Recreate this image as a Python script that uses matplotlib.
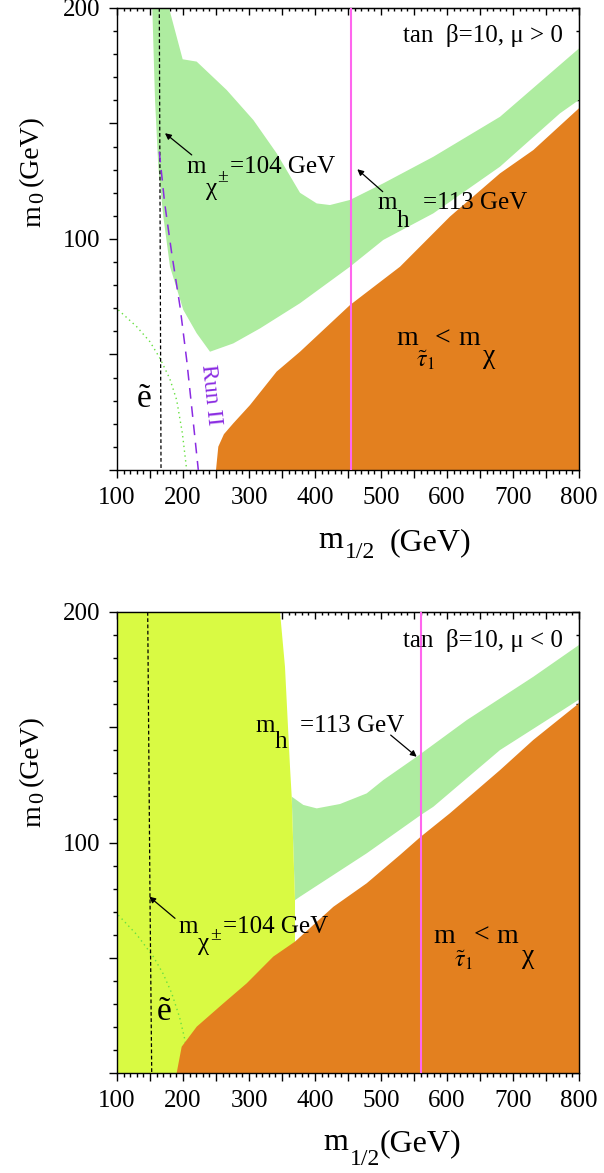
import matplotlib
matplotlib.use("Agg")
import matplotlib.pyplot as plt
import numpy as np

plt.rcParams['font.family'] = ['Liberation Serif', 'DejaVu Serif']
plt.rcParams['mathtext.fontset'] = 'stix'

# ---------------- data (m_1/2, m_0 in GeV) ----------------
# top panel: tan beta = 10, mu > 0
top_green_x = [153.5, 178.8, 199.5, 220.7, 266.2, 306.6, 341.9, 377.3, 402.6, 422.7, 453.0, 503.5,
               579.3, 680.3, 800.0, 800.0, 771.2, 680.3, 579.3, 503.5, 453.0, 377.3, 316.7, 276.2,
               240.9, 220.7, 200.5, 180.3, 170.2, 162.6, 157.6]
top_green_y = [200.0, 200.0, 177.8, 176.8, 164.5, 151.5, 137.1, 120.0, 115.4, 114.7, 116.9, 124.1,
               135.6, 152.9, 182.5, 160.2, 154.4, 131.3, 111.1, 99.6, 88.0, 72.2, 61.3, 54.8,
               51.2, 59.2, 69.3, 88.0, 109.7, 131.3, 160.2]
top_stau_x = [250.0, 253.5, 262.0, 276.2, 301.5, 341.9, 377.3, 453.0, 528.8, 604.5, 680.3, 730.8, 800.0, 800.0]
top_stau_y = [0.0, 10.1, 15.5, 20.2, 28.1, 42.6, 51.2, 71.4, 88.0, 109.7, 128.4, 138.5, 156.6, 0.0]
top_chargino_x = [164.1, 166.7]
top_chargino_y = [200.0, 0.0]
top_run2_x = [164.1, 172.0, 182.9, 195.5, 205.6, 214.0, 223.2]
top_run2_y = [137.8, 116.0, 93.8, 70.7, 47.6, 25.0, 0.0]
top_selectron_x = [102.0, 130.0, 150.0, 165.2, 180.0, 190.4, 199.0, 205.6]
top_selectron_y = [69.3, 62.0, 55.5, 48.3, 39.5, 30.3, 16.0, 0.0]
top_higgs_x = 454.0

# bottom panel: tan beta = 10, mu < 0
bot_yellow_x = [100.0, 347.0, 354.5, 362.1, 364.7, 369.7, 369.7, 100.0]
bot_yellow_y = [200.0, 200.0, 176.3, 132.9, 119.9, 75.0, 0.0, 0.0]
bot_green_x = [364.7, 382.3, 402.6, 437.9, 478.3, 503.5, 554.1, 629.9, 730.8, 800.0,
               800.0, 771.2, 680.3, 579.3, 560.2, 478.3, 377.3, 369.7]
bot_green_y = [119.9, 116.3, 114.8, 116.7, 121.3, 127.1, 137.2, 153.1, 171.9, 185.7,
               162.0, 156.7, 140.1, 115.5, 111.9, 95.3, 76.5, 75.0]
bot_stau_x = [190.4, 198.0, 220.8, 261.1, 296.5, 336.8, 369.7, 427.8, 478.3, 528.8, 560.2,
              604.5, 680.3, 730.8, 800.0, 800.0]
bot_stau_y = [0.0, 11.4, 20.1, 30.2, 38.9, 50.5, 57.0, 72.1, 82.3, 94.6, 102.5,
              112.7, 131.4, 144.5, 160.4, 0.0]
bot_chargino_x = [146.5, 150.0, 152.6]
bot_chargino_y = [200.0, 76.0, 0.0]
bot_selectron_x = [102.0, 130.0, 155.0, 170.0, 182.9, 195.0, 203.0, 208.0]
bot_selectron_y = [68.5, 60.0, 50.5, 43.0, 34.6, 24.0, 14.3, 5.0]
bot_higgs_x = 560.2

xticks = [100, 150, 200, 250, 300, 350, 400, 450, 500, 550, 600, 650, 700, 750, 800]
xticklabels = ['100', '', '200', '', '300', '', '400', '', '500', '', '600', '', '700', '', '800']
yticks = [0, 50, 100, 150, 200]
yticklabels = ['', '', '100', '', '200']
xminor = list(range(100, 801, 10))
yminor = list(range(0, 201, 10))

GREEN = '#aeeca0'
ORANGE = '#e3801f'
YELLOW = '#d9fa43'
PINK = '#ff66ee'
PURPLE = '#8a2be2'
DOTGREEN = '#66e040'

W, H = 604, 1173
fig = plt.figure(figsize=(W / 100, H / 100), dpi=100)


def ax_rect(left, top, right, bottom):
    return [left / W, 1 - bottom / H, (right - left) / W, (bottom - top) / H]


ax1 = fig.add_axes(ax_rect(117, 8, 579, 470))
ax2 = fig.add_axes(ax_rect(117, 612, 579, 1073))


def style(ax):
    ax.set_xlim(100, 800)
    ax.set_ylim(0, 200)
    ax.set_xticks(xticks)
    ax.set_xticklabels(xticklabels)
    ax.set_yticks(yticks)
    ax.set_yticklabels(yticklabels)
    ax.set_xticks(xminor, minor=True)
    ax.set_yticks(yminor, minor=True)
    ax.tick_params(which='both', direction='out', width=1.0)
    ax.tick_params(which='major', length=5.8, labelsize=18, pad=6.5)
    ax.tick_params(which='minor', length=2.6)
    for sp in ax.spines.values():
        sp.set_linewidth(1.0)
    # inward ticks on top and right
    top = ax.secondary_xaxis('top')
    top.set_xticks(xticks)
    top.set_xticks(xminor, minor=True)
    top.tick_params(which='both', direction='in', labeltop=False, width=1.0)
    top.tick_params(which='major', length=5)
    top.tick_params(which='minor', length=2.5)
    right = ax.secondary_yaxis('right')
    right.set_yticks(yticks)
    right.set_yticks(yminor, minor=True)
    right.tick_params(which='both', direction='in', labelright=False, width=1.0)
    right.tick_params(which='major', length=5)
    right.tick_params(which='minor', length=2.5)


def txt(ax, x, y, s, size=18, **kw):
    ax.text(x, y, s, fontsize=size, ha='left', va='baseline', zorder=6, **kw)


def arrow(ax, tail, head):
    ax.annotate('', xy=head, xytext=tail,
                arrowprops=dict(arrowstyle='-|>', lw=0.9, color='black',
                                mutation_scale=9, shrinkA=0, shrinkB=0), zorder=6)


# ---------------- top panel ----------------
style(ax1)
ax1.fill(top_green_x, top_green_y, color=GREEN, lw=0, zorder=1)
ax1.fill(top_stau_x, top_stau_y, color=ORANGE, lw=0, zorder=1)
ax1.plot(top_selectron_x, top_selectron_y, color=DOTGREEN, lw=1.0, ls=(0, (1, 2.5)), zorder=2)
ax1.plot(top_chargino_x, top_chargino_y, color='black', lw=0.9, ls=(0, (3, 2)), zorder=3)
ax1.plot(top_run2_x, top_run2_y, color=PURPLE, lw=1.1, ls=(0, (7, 5)), zorder=3)
ax1.axvline(top_higgs_x, color=PINK, lw=1.5, zorder=4)

ax1.text(775.8, 185.3, 'tan  β=10, μ > 0', fontsize=18, ha='right', va='baseline', zorder=6)
txt(ax1, 205.6, 128.6, 'm')
txt(ax1, 234.8, 119.0, 'χ')
txt(ax1, 252.0, 124.7, '±', size=14)
txt(ax1, 271.2, 128.6, '=104 GeV')
arrow(ax1, (213.2, 136.4), (172.7, 145.8))
txt(ax1, 494.4, 113.0, 'm')
txt(ax1, 524.3, 105.3, 'h')
txt(ax1, 564.1, 113.0, '=113 GeV')
arrow(ax1, (502.6, 120.5), (464.1, 130.2))
txt(ax1, 523.8, 54.1, 'm', size=20)
txt(ax1, 553.0, 44.7, r'$\tilde{\tau}_{1}$', size=17)
txt(ax1, 581.8, 54.1, '<', size=20)
txt(ax1, 617.2, 54.1, 'm', size=20)
txt(ax1, 655.0, 46.3, 'χ', size=20)
txt(ax1, 129.8, 27.3, 'ẽ', size=24)
ax1.text(242.0, 32.5, 'Run II', fontsize=17, color=PURPLE, rotation=-84,
         ha='center', va='center', zorder=6)

# ---------------- bottom panel ----------------
style(ax2)
ax2.fill(bot_green_x, bot_green_y, color=GREEN, lw=0, zorder=1)
ax2.fill(bot_yellow_x, bot_yellow_y, color=YELLOW, lw=0, zorder=1.2)
ax2.plot(bot_selectron_x, bot_selectron_y, color=DOTGREEN, lw=1.0, ls=(0, (1, 2.5)), zorder=1.3)
ax2.fill(bot_stau_x, bot_stau_y, color=ORANGE, lw=0, zorder=1.5)
ax2.plot(bot_chargino_x, bot_chargino_y, color='black', lw=0.9, ls=(0, (3, 2)), zorder=3)
ax2.axvline(bot_higgs_x, color=PINK, lw=1.5, zorder=4)

ax2.text(775.8, 184.9, 'tan  β=10, μ < 0', fontsize=18, ha='right', va='baseline', zorder=6)
txt(ax2, 309.1, 148.1, 'm')
txt(ax2, 339.4, 140.9, 'h')
txt(ax2, 377.3, 148.1, '=113 GeV')
arrow(ax2, (514.7, 146.6), (554.1, 137.2))
txt(ax2, 192.4, 60.7, 'm')
txt(ax2, 223.2, 53.4, 'χ')
txt(ax2, 241.0, 57.5, '±', size=14)
txt(ax2, 261.1, 60.7, '=104 GeV')
arrow(ax2, (187.9, 67.1), (148.9, 76.5))
txt(ax2, 579.3, 56.4, 'm', size=20)
txt(ax2, 611.0, 46.0, r'$\tilde{\tau}_{1}$', size=17)
txt(ax2, 639.9, 56.4, '<', size=20)
txt(ax2, 675.3, 56.4, 'm', size=20)
txt(ax2, 713.2, 47.7, 'χ', size=20)
txt(ax2, 160.6, 23.0, 'ẽ', size=24)


# ---------------- axis labels (pixel placed) ----------------
def ftxt(px, py, s, size, rot=0):
    fig.text(px / W, 1 - py / H, s, fontsize=size, ha='left', va='baseline',
             rotation=rot, rotation_mode='anchor')


ftxt(318.3, 548.3, 'm', 23)
ftxt(345.0, 558.3, '1/2', 17)
ftxt(390.0, 550.0, '(GeV)', 23)
ftxt(323.3, 1150.0, 'm', 23)
ftxt(350.0, 1165.0, '1/2', 17)
ftxt(380.0, 1151.0, '(GeV)', 23)

ftxt(40, 227, 'm', 20, rot=90)
ftxt(43, 203, '0', 16, rot=90)
ftxt(38, 186, '(GeV)', 20, rot=90)
ftxt(40, 827, 'm', 20, rot=90)
ftxt(43, 803, '0', 16, rot=90)
ftxt(38, 786, '(GeV)', 20, rot=90)

fig.savefig('out.png', dpi=100)
